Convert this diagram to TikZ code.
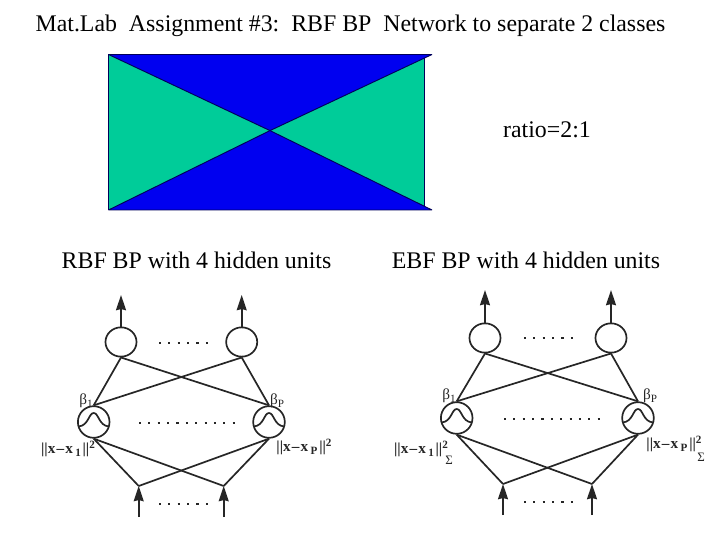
\documentclass[tikz,border=0pt]{standalone}
\usepackage{fontspec}
\setmainfont{Liberation Serif}
\usetikzlibrary{arrows.meta,shapes.geometric}
\definecolor{teal1}{RGB}{0,204,153}
\definecolor{blue1}{RGB}{0,0,240}
\definecolor{navy1}{RGB}{0,0,90}
\tikzset{
  title/.style={inner sep=0pt,font=\fontsize{20.35pt}{22pt}\selectfont},
  wire/.style={line width=1.45pt,black!85},
  outunit/.style={ellipse,draw,wire,minimum width=26.5pt,minimum height=25pt,inner sep=0pt},
  hidunit/.style={circle,draw,wire,minimum size=27pt,inner sep=0pt},
  arrowline/.style={wire,-{Stealth[length=13pt,width=8.5pt,inset=1pt]}},
  dotrow/.style={line width=1.8pt,dash pattern=on 1.8pt off 6.2pt,black!85},
  small/.style={inner sep=0pt,black!85,font=\fontsize{13pt}{14pt}\selectfont},
}
\newcommand{\bump}[1]{\draw[wire] (#1) ++(-15,4.5) .. controls +(10,-1) and +(-5,0) .. ++(15,-13.5) .. controls +(5,0) and +(-10,-1) .. ++(15,13.5);}
\newcommand{\distlab}[1]{\textbf{||x\kern1pt--\kern1pt x\kern2pt\raisebox{-2.5pt}{\fontsize{9.5pt}{9pt}\selectfont #1}\kern1.5pt||\raisebox{5pt}{\fontsize{9.5pt}{9pt}\selectfont 2}}}
\begin{document}
\begin{tikzpicture}[x=.03cm,y=-.03cm]
  \useasboundingbox (0,0) rectangle (720,540);
  \node[title] (head) at (350.5,25.5) {Mat.Lab\ \ Assignment \#3:\ \ RBF BP\ \ Network to separate 2 classes};
  % class regions
  \fill[teal1] (108.5,54.5) rectangle (424,210);
  \draw[navy1,fill=blue1,line width=.8pt,line join=bevel] (108.5,54.5) -- (432,54.5) -- (270,130.6) -- cycle;
  \draw[navy1,fill=blue1,line width=.8pt,line join=bevel] (108.5,210) -- (432,210) -- (270,130.6) -- cycle;
  \draw[navy1,line width=.8pt] (108.5,54.5) -- (108.5,210);
  \draw[navy1,line width=.8pt] (424,58) -- (424,206);
  \node[title] (ratio) at (547,130) {ratio=2:1};
  \node[title] (capa) at (196.5,260) {RBF BP with 4 hidden units};
  \node[title] (capb) at (526,260) {EBF BP with 4 hidden units};
  % left network
  \node[outunit] (a1) at (121,342) {};
  \node[outunit] (a2) at (241.7,342) {};
  \node[hidunit] (ah1) at (93.7,422) {};
  \node[hidunit] (ah2) at (269,422) {};
  \coordinate (ai1) at (138.7,486);
  \coordinate (ai2) at (223.7,486);
  \coordinate (at1) at (121,295);
  \coordinate (at2) at (241.7,295);
  \coordinate (ab1) at (138.7,517);
  \coordinate (ab2) at (223.7,517);
  \draw[arrowline] (a1.north) -- (at1);
  \draw[arrowline] (a2.north) -- (at2);
  \draw[arrowline] (ab1) -- (ai1);
  \draw[arrowline] (ab2) -- (ai2);
  \draw[wire] (a1.south) -- (ah1.north);
  \draw[wire] (a1.south) -- (ah2.north);
  \draw[wire] (a2.south) -- (ah1.north);
  \draw[wire] (a2.south) -- (ah2.north);
  \draw[wire] (ah1.south) -- (ai1);
  \draw[wire] (ah1.south) -- (ai2);
  \draw[wire] (ah2.south) -- (ai1);
  \draw[wire] (ah2.south) -- (ai2);
  \bump{ah1}
  \bump{ah2}
  \draw[dotrow] (159,343) -- (208,343);
  \draw[dotrow] (139,423) -- (235,423);
  \draw[dotrow] (159,504) -- (208,504);
  \node[small] (ab) at (86,401) {β\raisebox{-2.5pt}{\fontsize{9.5pt}{9pt}\selectfont 1}};
  \node[small] (abp) at (277,401) {β\raisebox{-2.5pt}{\fontsize{9.5pt}{9pt}\selectfont P}};
  \node[small] (ad1) at (68,449) {\distlab{1}};
  \node[small] (ad2) at (304,447) {\distlab{P}};
  % right network
  \node[outunit] (b1) at (485,338) {};
  \node[outunit] (b2) at (611,338) {};
  \node[hidunit] (bh1) at (456.7,418) {};
  \node[hidunit] (bh2) at (638,418) {};
  \coordinate (bi1) at (503,484);
  \coordinate (bi2) at (592,484);
  \coordinate (bt1) at (485,290);
  \coordinate (bt2) at (611,290);
  \coordinate (bb1) at (503,515);
  \coordinate (bb2) at (592,515);
  \draw[arrowline] (b1.north) -- (bt1);
  \draw[arrowline] (b2.north) -- (bt2);
  \draw[arrowline] (bb1) -- (bi1);
  \draw[arrowline] (bb2) -- (bi2);
  \draw[wire] (b1.south) -- (bh1.north);
  \draw[wire] (b1.south) -- (bh2.north);
  \draw[wire] (b2.south) -- (bh1.north);
  \draw[wire] (b2.south) -- (bh2.north);
  \draw[wire] (bh1.south) -- (bi1);
  \draw[wire] (bh1.south) -- (bi2);
  \draw[wire] (bh2.south) -- (bi1);
  \draw[wire] (bh2.south) -- (bi2);
  \bump{bh1}
  \bump{bh2}
  \draw[dotrow] (524,338) -- (574,338);
  \draw[dotrow] (504,419) -- (602,419);
  \draw[dotrow] (524,502) -- (574,502);
  \node[small] (bb) at (449,396) {β\raisebox{-2.5pt}{\fontsize{9.5pt}{9pt}\selectfont 1}};
  \node[small] (bbp) at (650,396) {β\raisebox{-2.5pt}{\fontsize{9.5pt}{9pt}\selectfont P}};
  \node[small] (bd1) at (421,449) {\distlab{1}};
  \node[small] (bd2) at (674,444) {\distlab{P}};
  \node[small,font=\fontsize{11pt}{12pt}\selectfont] (bs1) at (449,460) {Σ};
  \node[small,font=\fontsize{11pt}{12pt}\selectfont] (bs2) at (701,457) {Σ};
\end{tikzpicture}
\end{document}
